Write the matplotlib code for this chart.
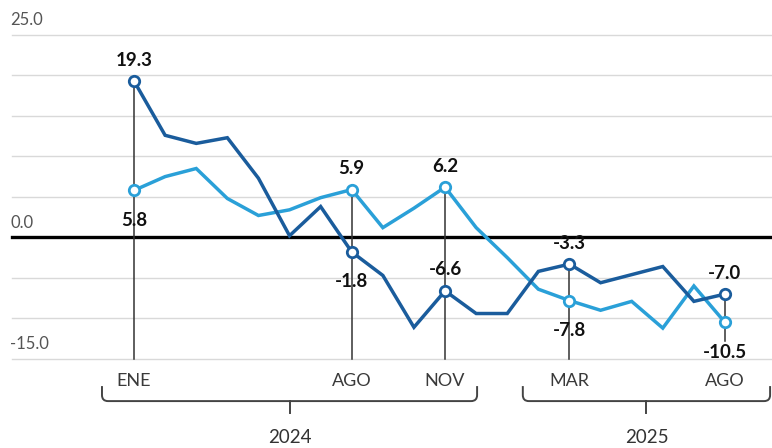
import matplotlib
matplotlib.use("Agg")
import matplotlib.pyplot as plt
from matplotlib.path import Path
from matplotlib.patches import PathPatch

# ---- data ----
months = ["ENE", "FEB", "MAR", "ABR", "MAY", "JUN", "JUL", "AGO", "SEP", "OCT", "NOV", "DIC",
          "ENE", "FEB", "MAR", "ABR", "MAY", "JUN", "JUL", "AGO"]
dark_vals = [19.3, 12.6, 11.6, 12.3, 7.3, 0.2, 3.8, -1.8, -4.7, -11.1, -6.6, -9.4,
             -9.4, -4.2, -3.3, -5.6, -4.6, -3.6, -7.9, -7.0]
light_vals = [5.8, 7.5, 8.5, 4.8, 2.7, 3.4, 4.9, 5.9, 1.2, 3.6, 6.2, 1.2,
              -2.5, -6.4, -7.8, -9.0, -7.9, -11.2, -6.0, -10.5]
tick_idx = [0, 7, 10, 14, 19]
tick_labels = ["ENE", "AGO", "NOV", "MAR", "AGO"]
ytick_vals = [25, 0, -15]
ytick_labels = ["25.0", "0.0", "-15.0"]
grid_vals = [25, 20, 15, 10, 5, -5, -10, -15]
years = ["2024", "2025"]
year_spans = [(-1.03, 11.03), (12.5, 20.45)]

# annotations: (index, value, series, position)
ann = [(0, 19.3, "d", "above"), (0, 5.8, "l", "below"),
       (7, 5.9, "l", "above"), (7, -1.8, "d", "below"),
       (10, 6.2, "l", "above"), (10, -6.6, "d", "above"),
       (14, -3.3, "d", "above"), (14, -7.8, "l", "below"),
       (19, -7.0, "d", "above"), (19, -10.5, "l", "below")]

DARK = "#1a5c9c"
LIGHT = "#2aa0d8"
FONT = "Lato"

fig = plt.figure(figsize=(7.72, 4.48), dpi=100)
ax = fig.add_axes([0, 0, 1, 1])
ax.set_xlim(-134 / 31.1, 19 + 47 / 31.1)
ax.set_ylim(-26.0, 29.3)
ax.axis("off")

x = list(range(len(months)))
xl, xr = ax.get_xlim()
gx0 = xl + 12 / 31.1

# gridlines
for g in grid_vals:
    ax.plot([gx0, xr], [g, g], color="#d9d9d9", lw=1.0, zorder=1)
ax.plot([gx0, xr], [0, 0], color="black", lw=2.4, zorder=2)

for v, t in zip(ytick_vals, ytick_labels):
    ax.text(xl + 10 / 31.1, v + 1.8, t, ha="left", va="center", fontsize=12,
            family=FONT, color="#555555")

# vertical annotation lines
for i in [0, 7, 10, 14]:
    top = max(dark_vals[i], light_vals[i])
    ax.plot([i, i], [top, -15], color="#333333", lw=1.1, zorder=3)
ax.plot([19, 19], [dark_vals[19], -12.8], color="#333333", lw=1.1, zorder=3)

# lines
ax.plot(x, light_vals, color=LIGHT, lw=2.5, zorder=4, solid_joinstyle="miter")
ax.plot(x, dark_vals, color=DARK, lw=2.5, zorder=5, solid_joinstyle="miter")

# markers and labels
for i, v, s, pos in ann:
    c = DARK if s == "d" else LIGHT
    ax.plot([i], [v], marker="o", ms=7.5, mfc="white", mec=c, mew=2.0, zorder=6)
    dy = 21 if pos == "above" else -30
    ax.annotate(f"{v:.1f}", (i, v), xytext=(0, dy), textcoords="offset pixels",
                ha="center", va="center", fontsize=13.5, fontweight="bold",
                family=FONT, color="#111111", zorder=7)

# month tick labels
for i, t in zip(tick_idx, tick_labels):
    ax.text(i, -17.7, t, ha="center", va="center", fontsize=13,
            family=FONT, color="#3a3a3a")

# year brackets
ytop = (237.3 - 386) / 8.1
ybot = (237.3 - 401) / 8.1
ytick_b = (237.3 - 413) / 8.1
rx = 6 / 31.1
ry = 6 / 8.1
for (a, b), yr in zip(year_spans, years):
    verts = [(a, ytop), (a, ybot + ry), (a, ybot), (a + rx, ybot),
             (b - rx, ybot), (b, ybot), (b, ybot + ry), (b, ytop)]
    codes = [Path.MOVETO, Path.LINETO, Path.CURVE3, Path.CURVE3,
             Path.LINETO, Path.CURVE3, Path.CURVE3, Path.LINETO]
    ax.add_patch(PathPatch(Path(verts, codes), fill=False, ec="#444444", lw=1.4))
    m = (a + b) / 2
    ax.plot([m, m], [ybot, ytick_b], color="#444444", lw=1.4)
    ax.text(m, (237.3 - 437) / 8.1, yr, ha="center", va="center", fontsize=13.5,
            family=FONT, color="#333333")

fig.savefig("out.png", dpi=100)
